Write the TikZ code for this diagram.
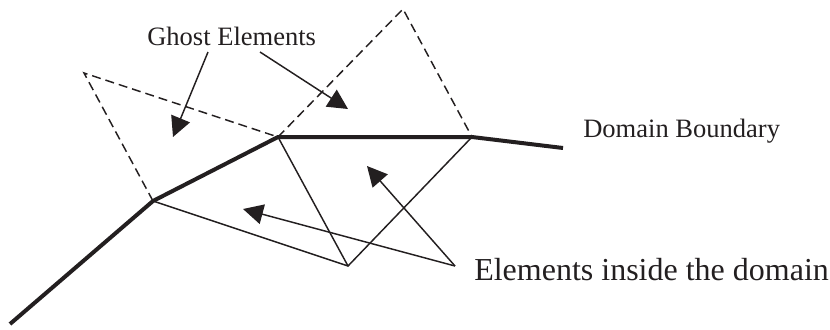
\documentclass[tikz,border=0pt]{standalone}
\usepackage{fontspec}
\setmainfont{Liberation Serif}
\usetikzlibrary{arrows.meta}
\definecolor{inkblack}{RGB}{35,31,32}
\tikzset{
  boundary/.style={inkblack,line width=3pt},
  edge/.style={inkblack,line width=1.1pt},
  ghost/.style={inkblack,line width=1.1pt,dash pattern=on 6.75pt off 3.75pt},
  pointer/.style={inkblack,line width=1.1pt,-{Triangle[length=15pt,width=15pt]}},
  smalltext/.style={text=inkblack,inner sep=0pt,anchor=base west,font=\fontsize{19.9}{23}\selectfont},
  bigtext/.style={text=inkblack,inner sep=0pt,anchor=base west,font=\fontsize{24}{28}\selectfont},
}
\begin{document}
\begin{tikzpicture}[x=0.75pt,y=-0.75pt]
\useasboundingbox (0,0) rectangle (830,329);
% mesh corners
\coordinate (start) at (10,324);
\coordinate (p1) at (153,201);
\coordinate (p2) at (278,137);
\coordinate (p3) at (472,137);
\coordinate (stop) at (563,148);
\coordinate (inner) at (348,266);
\coordinate (g1) at (84,73);
\coordinate (g2) at (403,9);
% elements inside
\draw[edge] (p1) -- (inner) -- (p3);
\draw[edge] (p2) -- (inner);
% ghost elements
\draw[ghost] (p1) -- (g1) -- (p2);
\draw[ghost] (p2) -- (g2) -- (p3);
% boundary
\draw[boundary] (start) -- (p1) -- (p2) -- (p3) -- (stop);
% labels
\node[smalltext] (ghostlabel) at (147,45) {Ghost Elements};
\node[smalltext] (boundarylabel) at (583,137) {Domain Boundary};
\node[bigtext] (insidelabel) at (474,280) {Elements inside the domain};
% arrows
\coordinate (ga) at (208,52);
\coordinate (gb) at (260,52);
\coordinate (ic) at (455,266);
\coordinate (gatip) at (173,137);
\coordinate (gbtip) at (348,109);
\coordinate (iatip) at (243,209);
\coordinate (ibtip) at (367,166);
\draw[pointer] (ga) -- (gatip);
\draw[pointer] (gb) -- (gbtip);
\draw[pointer] (ic) -- (iatip);
\draw[pointer] (ic) -- (ibtip);
\end{tikzpicture}
\end{document}
